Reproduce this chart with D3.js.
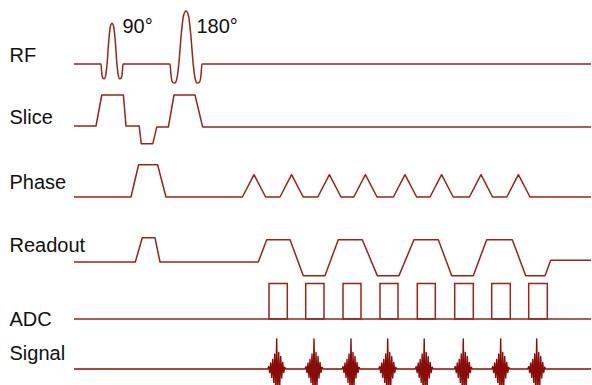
<!DOCTYPE html>
<html lang="en">
<head>
<meta charset="utf-8">
<title>Pulse sequence diagram</title>
<script src="https://cdn.jsdelivr.net/npm/d3@7"></script>
<style>
    html, body { margin: 0; padding: 0; background: #fff; }
    svg { display: block; }
    .label { font-family: "Liberation Sans", Arial, Helvetica, sans-serif; font-size: 20px; fill: #111; }
</style>
</head>
<body>
<div id="svg-container"></div>
<script>
    // --- data (time in arbitrary units, amplitudes normalised per row) ---
    const rowLabels = ["RF", "Slice", "Phase", "Readout", "ADC", "Signal"];

    const rfCenters = [19, 56];
    const rfHalfWidths = [5.5, 8];
    const rfAmps = [0.77, 1];
    const rfFlipAngles = ["90°", "180°"];
    // one sinc lobe: [relative time, amplitude]
    const rfShape = [[-1, 0], [-0.94, -0.2], [-0.85, -0.34], [-0.7, -0.36], [-0.56, -0.26], [-0.45, 0],
                     [-0.3, 0.55], [-0.15, 0.92], [0, 1], [0.15, 0.92], [0.3, 0.55], [0.45, 0],
                     [0.56, -0.26], [0.7, -0.36], [0.85, -0.34], [0.94, -0.2], [1, 0]];

    const sliceWave = [[0, 0], [11, 0], [13.9, 1], [24.7, 1], [26, 0], [32.6, 0], [33.6, -0.57], [39.4, -0.57],
                       [41.4, -0.03], [47.2, -0.03], [50, 1], [60.5, 1], [64.3, -0.03], [258.5, -0.03]];

    const phaseWave = [[0, 0], [28.5, 0], [32.3, 1.04], [41.8, 1.04], [46, 0]];
    const phaseBlipTimes = [90, 108.8, 127.7, 145.7, 165.5, 183.8, 203.5, 222.2];
    const phaseBlipAmp = 0.72;

    const readoutWave = [[0, 0], [30.65, 0], [34.15, 0.78], [40.5, 0.78], [43, 0], [92.15, 0],
                         [96.35, 0.72], [108, 0.72], [114.65, -0.44], [125.5, -0.44],
                         [132.15, 0.72], [144.15, 0.72], [151.65, -0.44], [162.5, -0.44],
                         [170, 0.72], [182.15, 0.72], [188.85, -0.44], [199.65, -0.44],
                         [206.35, 0.72], [219.15, 0.72], [225.85, -0.44], [235.5, -0.44],
                         [238.35, 0.06], [258.5, 0.06]];

    const adcWindows = [[97.5, 106.65], [115.85, 125], [134.5, 143.5], [153, 162],
                        [171.65, 180.65], [190.35, 199.65], [208.85, 218.15], [227.35, 236.65]];

    const echoCenters = [101.35, 120, 138.5, 156.85, 175.1, 194.65, 213.35, 231.35];
    // echo waveform samples (step 0.5 time units), read by eye
    const echoShape = [0, 0.08, -0.12, 0.2, -0.28, 0.32, -0.45, 0.5, -0.75, 1.0,
                       -1.0, 0.55, -0.6, 0.42, -0.3, 0.22, -0.12, 0.06, 0];

    // --- layout ---
    const width = 592, height = 385;
    const tEnd = 258.5;
    const lineColor = "#9c2317", signalColor = "#8a0c06";

    const x = d3.scaleLinear().domain([0, tEnd]).range([74, 591]);

    // each row: baseline y and pixels per unit amplitude
    const rows = {
        RF:      { base: 64,  unit: 53,   labelY: 62 },
        Slice:   { base: 126, unit: 31,   labelY: 124 },
        Phase:   { base: 197, unit: 31,   labelY: 189 },
        Readout: { base: 262, unit: 31,   labelY: 251.7 },
        ADC:     { base: 319, unit: 35.5, labelY: 326 },
        Signal:  { base: 369, unit: 30,   labelY: 360 }
    };
    const yScale = (r) => d3.scaleLinear().domain([0, 1]).range([rows[r].base, rows[r].base - rows[r].unit]);

    const svg = d3.select("#svg-container")
        .append("svg")
        .attr("width", width)
        .attr("height", height);

    svg.selectAll("text.label")
        .data(rowLabels)
        .enter()
        .append("text")
        .attr("class", "label")
        .attr("x", 9.5)
        .attr("y", (d) => rows[d].labelY)
        .text((d) => d);

    function drawWave(points, row, curve, color, sw) {
        const y = yScale(row);
        svg.append("path")
            .attr("d", d3.line().x((d) => x(d[0])).y((d) => y(d[1])).curve(curve)(points))
            .attr("fill", "none")
            .attr("stroke", color)
            .attr("stroke-width", sw)
            .attr("stroke-linejoin", "round");
    }

    // RF
    let rfPts = [[0, 0]];
    rfCenters.forEach((c, i) => {
        rfShape.forEach((p) => rfPts.push([c + p[0] * rfHalfWidths[i], p[1] * rfAmps[i]]));
    });
    rfPts.push([tEnd, 0]);
    drawWave(rfPts, "RF", d3.curveMonotoneX, lineColor, 1.5);

    svg.selectAll("text.flip")
        .data(rfFlipAngles)
        .enter()
        .append("text")
        .attr("class", "label flip")
        .attr("x", (d, i) => x(rfCenters[i]) + 10.5)
        .attr("y", 33)
        .text((d) => d);

    // gradients
    drawWave(sliceWave, "Slice", d3.curveLinear, lineColor, 1.5);

    let phasePts = phaseWave.slice();
    phaseBlipTimes.forEach((t) => {
        phasePts.push([t - 5.8, 0], [t, phaseBlipAmp], [t + 5.8, 0]);
    });
    phasePts.push([tEnd, 0]);
    drawWave(phasePts, "Phase", d3.curveLinear, lineColor, 1.5);

    drawWave(readoutWave, "Readout", d3.curveLinear, lineColor, 1.5);

    // ADC: baseline plus one box per sampling window
    drawWave([[0, 0], [tEnd, 0]], "ADC", d3.curveLinear, lineColor, 1.5);
    const yAdc = yScale("ADC");
    svg.selectAll("rect.adc")
        .data(adcWindows)
        .enter()
        .append("rect")
        .attr("class", "adc")
        .attr("x", (d) => x(d[0]))
        .attr("y", yAdc(1))
        .attr("width", (d) => x(d[1]) - x(d[0]))
        .attr("height", yAdc(0) - yAdc(1))
        .attr("fill", "none")
        .attr("stroke", lineColor)
        .attr("stroke-width", 1.5);

    // Signal
    const step = 0.5, half = (echoShape.length - 1) * step / 2;
    let sigPts = [[0, 0]];
    echoCenters.forEach((c) => {
        echoShape.forEach((a, k) => sigPts.push([c - half + k * step, a]));
    });
    sigPts.push([tEnd, 0]);
    drawWave(sigPts, "Signal", d3.curveLinear, signalColor, 1.4);
</script>
</body>
</html>
